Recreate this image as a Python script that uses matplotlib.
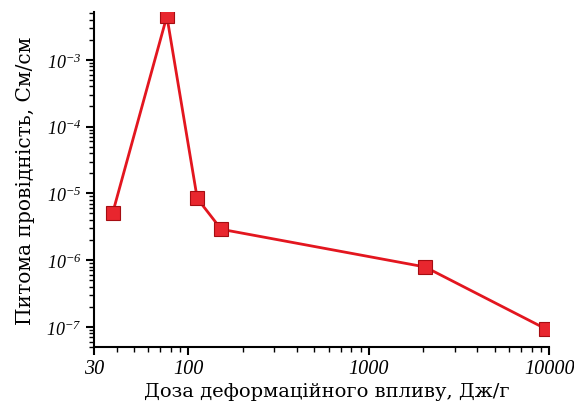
import matplotlib.pyplot as plt
from matplotlib.ticker import LogLocator, FixedLocator, NullFormatter

# dose of deformation treatment (J/g) and specific conductivity (S/cm)
dose = [38, 76, 112, 152, 2050, 9600]
conductivity = [5.0e-6, 4.5e-3, 8.4e-6, 2.9e-6, 7.9e-7, 9.3e-8]

x_ticks = [30, 100, 1000, 10000]
x_tick_labels = ['30', '100', '1000', '10000']
y_ticks = [1e-7, 1e-6, 1e-5, 1e-4, 1e-3]
y_tick_labels = [r'$\mathsf{10^{-7}}$', r'$\mathsf{10^{-6}}$', r'$\mathsf{10^{-5}}$',
                 r'$\mathsf{10^{-4}}$', r'$\mathsf{10^{-3}}$']

# italic serif digits for the power-of-ten labels
plt.rcParams['mathtext.fontset'] = 'custom'
plt.rcParams['mathtext.rm'] = 'Liberation Serif'
plt.rcParams['mathtext.sf'] = 'Liberation Serif:italic'
plt.rcParams['font.family'] = ['DejaVu Serif']

fig = plt.figure(figsize=(5.74, 4.06), dpi=100)
ax = fig.add_axes([0.1638, 0.1429, 0.793, 0.825])

ax.plot(dose, conductivity, '-', color='#e3161f', lw=2, zorder=2)
ax.plot(dose, conductivity, 's', ms=9.5, mfc='#e8262e', mec='#a50d12', mew=0.8, zorder=3)

ax.set_xscale('log')
ax.set_yscale('log')
ax.set_xlim(30, 10000)
ax.set_ylim(5.0e-8, 5.2e-3)

ax.xaxis.set_major_locator(FixedLocator(x_ticks))
ax.set_xticklabels(x_tick_labels, fontsize=14.5, family='Liberation Serif', fontstyle='italic')
ax.xaxis.set_minor_locator(LogLocator(base=10, subs=range(2, 10)))
ax.xaxis.set_minor_formatter(NullFormatter())

ax.yaxis.set_major_locator(FixedLocator(y_ticks))
ax.set_yticklabels(y_tick_labels, fontsize=13)
ax.yaxis.set_minor_locator(LogLocator(base=10, subs=range(2, 10)))
ax.yaxis.set_minor_formatter(NullFormatter())

ax.tick_params(which='major', direction='out', length=6, width=1.5, pad=3)
ax.tick_params(which='minor', direction='out', length=3.5, width=1)

for side in ['top', 'right']:
    ax.spines[side].set_visible(False)
for side in ['left', 'bottom']:
    ax.spines[side].set_linewidth(1.5)

ax.set_xlabel('Доза деформаційного впливу, Дж/г', fontsize=14)
ax.xaxis.set_label_coords(0.512, -0.105)
ax.set_ylabel('Питома провідність, См/см', fontsize=14.5, labelpad=8)

fig.savefig('out.png', dpi=100)
